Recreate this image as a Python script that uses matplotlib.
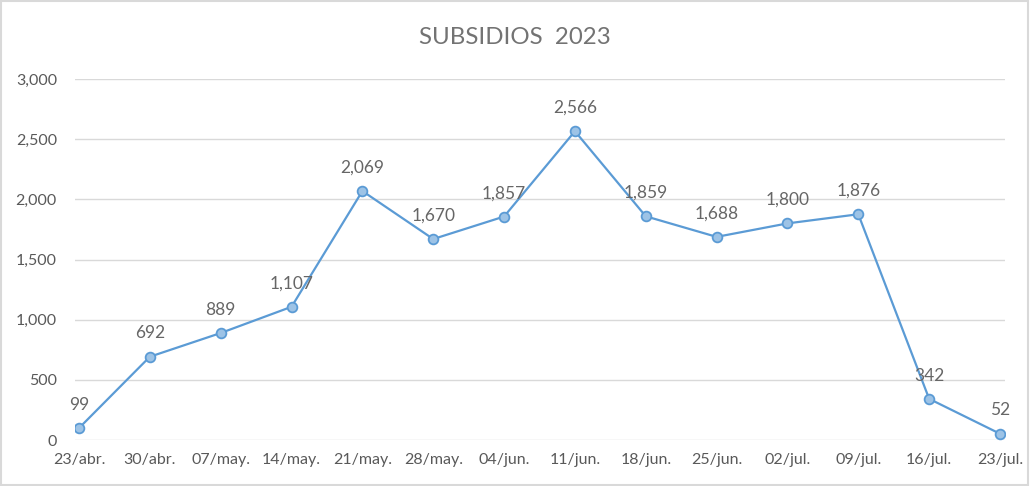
import matplotlib
matplotlib.use("Agg")
import matplotlib.pyplot as plt
from matplotlib.patches import Rectangle

categories = ["23/abr.", "30/abr.", "07/may.", "14/may.", "21/may.", "28/may.", "04/jun.",
              "11/jun.", "18/jun.", "25/jun.", "02/jul.", "09/jul.", "16/jul.", "23/jul."]
values = [99, 692, 889, 1107, 2069, 1670, 1857, 2566, 1859, 1688, 1800, 1876, 342, 52]
yticks = [0, 500, 1000, 1500, 2000, 2500, 3000]
title = "SUBSIDIOS  2023"

plt.rcParams['font.family'] = ['Lato', 'DejaVu Sans']
txt = '#595959'

fig = plt.figure(figsize=(10.30, 4.86), dpi=100)
ax = fig.add_axes([75/1030, 1-440/486, 930/1030, 361/486])
x = list(range(len(values)))
ax.plot(x, values, color='#5B9BD5', lw=1.6, marker='o', ms=7,
        markerfacecolor='#9DC3E6', markeredgecolor='#5B9BD5', markeredgewidth=1.3, zorder=3)
for xi, v in zip(x, values):
    ax.annotate(f"{v:,}", (xi, v), xytext=(0, 11), textcoords='offset points',
                ha='center', va='bottom', color='#666666', fontsize=12.5)
ax.set_ylim(0, 3000)
ax.set_xlim(-4/70.85, 13 + 5/70.85)
ax.set_yticks(yticks)
ax.set_yticklabels([f"{t:,}" for t in yticks])
ax.set_xticks(x)
ax.set_xticklabels(categories)
ax.tick_params(length=0, colors=txt)
ax.tick_params(axis='y', pad=13, labelsize=11.5)
ax.tick_params(axis='x', pad=9, labelsize=11.5)
ax.grid(axis='y', color='#D9D9D9', lw=1)
ax.set_axisbelow(True)
for s in ax.spines.values():
    s.set_visible(False)
fig.text(0.5, 1-37/486, title, ha='center', va='center', color='#737373', fontsize=17.3)
fig.patches.append(Rectangle((0.001, 0.002), 0.997, 0.996, transform=fig.transFigure,
                             fill=False, edgecolor='#D9D9D9', lw=1.5))
fig.savefig("out.png", dpi=100)
